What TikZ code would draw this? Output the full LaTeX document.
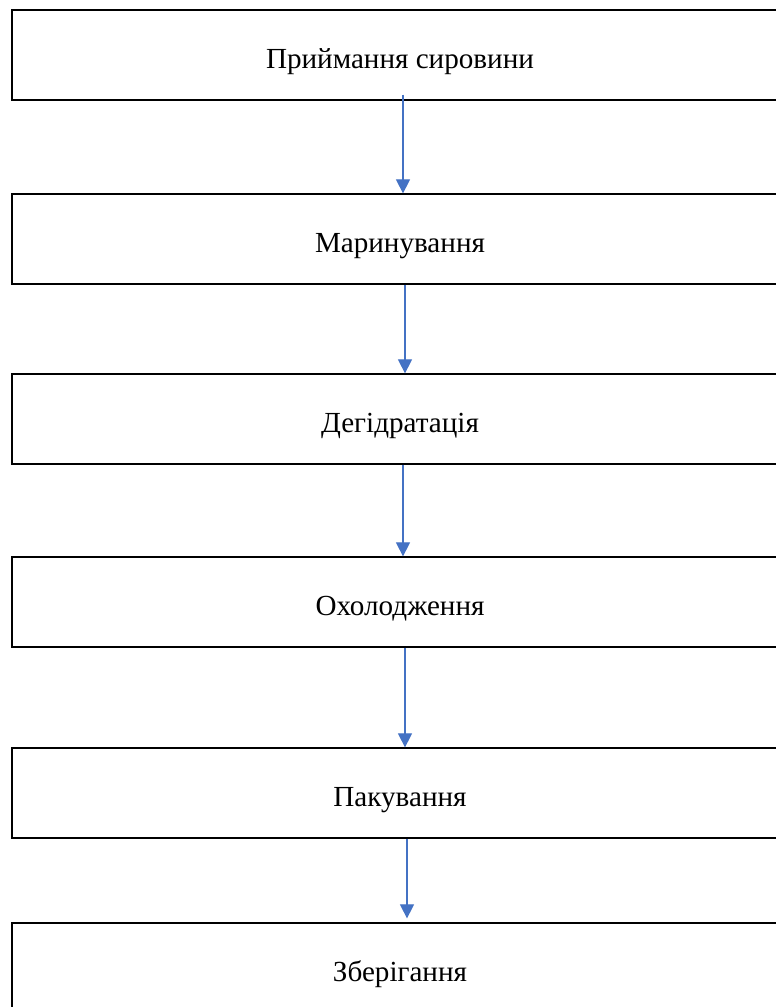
\documentclass[tikz,border=0pt]{standalone}
\usepackage{fontspec}
\setmainfont{Liberation Serif}
\usepackage{xcolor}
\usetikzlibrary{arrows.meta}
\definecolor{arrblue}{HTML}{4472C4}

\begin{document}
\begin{tikzpicture}[
    x=0.4pt, y=-0.4pt,
    stage/.style={rectangle, draw=black, line width=0.5pt, fill=white,
                  minimum width=310.4pt, minimum height=36pt, inner sep=0pt,
                  text height=11pt, text depth=0.4pt,
                  font=\fontsize{11.65}{14}\selectfont},
    arr/.style={-{Triangle[width=5.6pt, length=5.6pt]}, line width=0.45pt, arrblue}
]
\useasboundingbox[fill=white] (0,0) rectangle (775,1007);
\node[stage] (priim)  at (400,55)  {Приймання сировини};
\node[stage] (maryn)  at (400,239) {Маринування};
\node[stage] (dehid)  at (400,419) {Дегідратація};
\node[stage] (okhol)  at (400,602) {Охолодження};
\node[stage] (pakuv)  at (400,793) {Пакування};
\node[stage] (zberih) at (400,968) {Зберігання};

\draw[arr] ([xshift=1.2pt, yshift=2.4pt]priim.south) -- ([xshift=1.2pt]maryn.north);
\draw[arr] ([xshift=2pt]maryn.south) -- ([xshift=2pt]dehid.north);
\draw[arr] ([xshift=1.2pt]dehid.south) -- ([xshift=1.2pt]okhol.north);
\draw[arr] ([xshift=2pt]okhol.south) -- ([xshift=2pt]pakuv.north);
\draw[arr] ([xshift=2.8pt]pakuv.south) -- ([xshift=2.8pt, yshift=1.6pt]zberih.north);
\end{tikzpicture}
\end{document}
